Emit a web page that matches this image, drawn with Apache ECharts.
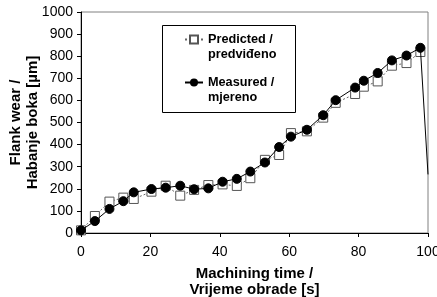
<!DOCTYPE html>
<html lang="en">
  <head>
    <meta charset="UTF-8" />
    <title>Flank wear</title>
    <script src="https://cdn.jsdelivr.net/npm/echarts@6/dist/echarts.min.js"></script>
    <style>
      html, body { margin: 0; padding: 0; background: #fff; }
    </style>
  </head>

  <body>
    <div id="main" style="width: 437px; height: 297px"></div>

    <script>
      // machining time [s]
      var times = [0, 4, 8.2, 12.2, 15.2, 20.3, 24.4, 28.6, 32.6, 36.7, 40.8, 44.9, 48.8, 53, 57.1,
        60.5, 65.1, 69.8, 73.4, 79, 81.5, 85.5, 89.6, 93.8, 97.8];
      var predicted = [12, 77, 142, 160, 154, 187, 214, 169, 195, 217, 220, 213, 248, 331, 353,
        452, 460, 522, 589, 629, 662, 686, 757, 769, 819];
      var measured = [12, 54, 109, 144, 184, 199, 205, 214, 198, 202, 232, 245, 278, 319, 389,
        436, 467, 533, 601, 658, 689, 724, 781, 803, 838];
      // measured curve drops off at the right edge
      var dropPoint = [100, 265];

      var xTicks = { min: 0, max: 100, interval: 20 };
      var yTicks = { min: 0, max: 1000, interval: 100 };

      function pairs(xs, ys) {
        var out = [];
        for (var i = 0; i < xs.length; i++) out.push([xs[i], ys[i]]);
        return out;
      }

      var measuredData = pairs(times, measured);
      measuredData.push({ value: dropPoint, symbol: "none" });

      var font = "Liberation Sans, Arial, sans-serif";
      var myChart = echarts.init(document.getElementById("main"));

      // leading empty line keeps the legend icon level with the first text line
      var legendText = {
        fontFamily: font,
        fontWeight: "bold",
        fontSize: 12.7,
        lineHeight: 15,
        color: "#000",
      };
      var legendBase = {
        left: 184,
        orient: "vertical",
        padding: 0,
        itemWidth: 18,
        itemHeight: 10,
        textStyle: legendText,
        formatter: function (name) {
          return name === "Predicted" ? "\nPredicted /\npredviđeno" : "\nMeasured /\nmjereno";
        },
      };

      var option = {
        animation: false,
        textStyle: { fontFamily: font },
        grid: {
          left: 81,
          right: 9,
          top: 12,
          bottom: 64,
          outerBoundsMode: "none",
          containLabel: false,
          show: true,
          borderColor: "#808080",
          borderWidth: 1,
        },
        graphic: [
          {
            type: "rect",
            shape: { x: 162.5, y: 25.5, width: 133, height: 87 },
            style: { fill: "#fff", stroke: "#000", lineWidth: 1 },
            z: 5,
          },
        ],
        legend: [
          echarts.util.extend({ top: 17, data: ["Predicted"], z: 10 }, legendBase),
          echarts.util.extend({ top: 60, data: ["Measured"], z: 10 }, legendBase),
        ],
        xAxis: {
          type: "value",
          min: xTicks.min,
          max: xTicks.max,
          interval: xTicks.interval,
          name: "Machining time /\nVrijeme obrade [s]",
          nameLocation: "middle",
          nameGap: 33,
          nameMoveOverlap: false,
          nameTextStyle: { fontFamily: font, fontWeight: "bold", fontSize: 15, lineHeight: 16, color: "#000" },
          axisLine: { lineStyle: { color: "#000" } },
          axisTick: { length: 4, lineStyle: { color: "#000" } },
          axisLabel: { fontSize: 14, color: "#000", margin: 12, fontFamily: font },
          splitLine: { show: false },
        },
        yAxis: {
          type: "value",
          min: yTicks.min,
          max: yTicks.max,
          interval: yTicks.interval,
          name: "Flank wear /\nHabanje boka [µm]",
          nameLocation: "middle",
          nameGap: 40,
          nameMoveOverlap: false,
          nameTextStyle: { fontFamily: font, fontWeight: "bold", fontSize: 15, lineHeight: 17, color: "#000" },
          axisLine: { show: true, lineStyle: { color: "#000" } },
          axisTick: { show: true, length: 4, lineStyle: { color: "#000" } },
          axisLabel: {
            fontSize: 14,
            color: "#000",
            margin: 8,
            fontFamily: font,
            formatter: function (v) { return String(v); },
          },
          splitLine: { show: false },
        },
        series: [
          {
            name: "Predicted",
            type: "line",
            data: pairs(times, predicted),
            symbol: "rect",
            symbolSize: 9,
            lineStyle: { color: "#666", width: 1, type: [2, 2] },
            itemStyle: { color: "#fff", borderColor: "#555", borderWidth: 1 },
            z: 2,
          },
          {
            name: "Measured",
            type: "line",
            data: measuredData,
            symbol: "circle",
            symbolSize: 9,
            lineStyle: { color: "#000", width: 1 },
            itemStyle: { color: "#000", borderColor: "#000" },
            z: 3,
          },
        ],
      };
      myChart.setOption(option);
    </script>
  </body>
</html>
